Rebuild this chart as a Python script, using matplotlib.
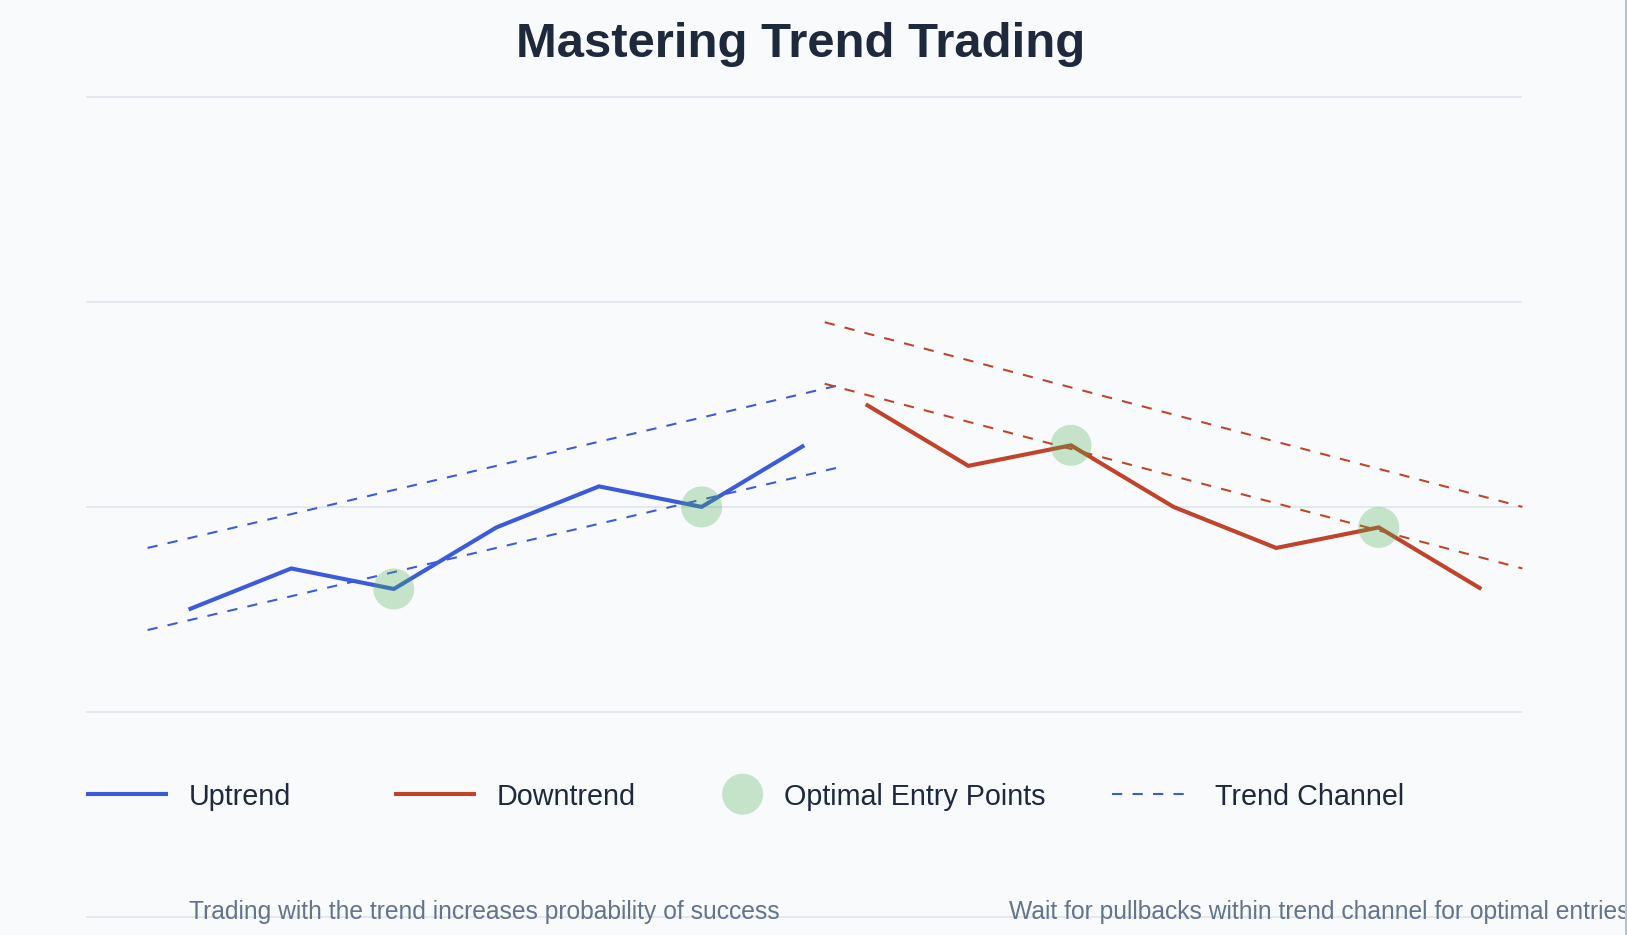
import matplotlib
matplotlib.use("Agg")
import matplotlib.pyplot as plt
from matplotlib.patches import Rectangle

plt.rcParams['font.family'] = ['Liberation Sans', 'DejaVu Sans']

# ---------------- data ----------------
up_time = [100, 150, 200, 250, 300, 350, 400]
up_price = [50, 70, 60, 90, 110, 100, 130]
down_time = [430, 480, 530, 580, 630, 680, 730]
down_price = [150, 120, 130, 100, 80, 90, 60]

entry_time = [200, 350, 530, 680]
entry_price = [60, 100, 130, 90]

up_channel_time = [80, 420]
up_channel_upper = [80, 160]
up_channel_lower = [40, 120]
down_channel_time = [410, 750]
down_channel_upper = [190, 100]
down_channel_lower = [160, 70]

grid_levels = [300, 200, 100, 0, -100]

title = "Mastering Trend Trading"
legend_labels = ["Uptrend", "Downtrend", "Optimal Entry Points", "Trend Channel"]
notes = ["Trading with the trend increases probability of success",
         "Wait for pullbacks within trend channel for optimal entries"]

# ---------------- style ----------------
BG = '#f8fafc'
BLUE = '#3b5bdb'
RED = '#c0432a'
GREEN = '#4caf50'
GRID = '#e2e8f0'
DARK = '#1e293b'
MUTED = '#64748b'

W, H = 1627, 935
fig = plt.figure(figsize=(W / 100, H / 100), dpi=100, facecolor=BG)
ax = fig.add_axes([0, 0, 1, 1])
ax.set_facecolor(BG)
for s in ax.spines.values():
    s.set_visible(False)
ax.set_xticks([])
ax.set_yticks([])

# pixel mapping (1 unit ~ 2.052 px)
k = 2.052
x0 = 50 - 86 / k
x1 = 50 + (W - 86) / k
top = 350 - (50 - 96.5 / k)
bottom = 350 - (50 + (H - 96.5) / k)
ax.set_xlim(x0, x1)
ax.set_ylim(bottom, top)

lw_main = 4.1 * 0.72
lw_dash = 2.05 * 0.72

# grid
ax.hlines(grid_levels, 50, 750, color=GRID, lw=1.4, zorder=1)

# channels
for yv in (up_channel_upper, up_channel_lower):
    ax.plot(up_channel_time, yv, color=BLUE, lw=lw_dash, dashes=(5, 5),
            dash_capstyle='butt', zorder=2)
for yv in (down_channel_upper, down_channel_lower):
    ax.plot(down_channel_time, yv, color=RED, lw=lw_dash, dashes=(5, 5),
            dash_capstyle='butt', zorder=2)

# trend lines
ax.plot(up_time, up_price, color=BLUE, lw=lw_main, solid_capstyle='butt',
        solid_joinstyle='miter', zorder=3)
ax.plot(down_time, down_price, color=RED, lw=lw_main, solid_capstyle='butt',
        solid_joinstyle='miter', zorder=3)

# entry points
msize = (2 * 20.5 * 0.72) ** 2
ax.scatter(entry_time, entry_price, s=msize, color=GREEN, alpha=0.3,
           edgecolors='none', zorder=4)

# title
fig.text(801 / W, 1 - 57 / H, title, ha='center', va='baseline',
         fontsize=35.3, fontweight='bold', color=DARK)

# legend (custom)
leg_y = 350 - 390
leg_text_y = 350 - 395.5
fs_leg = 28.7 * 0.72
ax.plot([50, 90], [leg_y, leg_y], color=BLUE, lw=lw_main, solid_capstyle='butt')
ax.text(100, leg_text_y, legend_labels[0], fontsize=fs_leg, color=DARK, va='baseline')
ax.plot([200, 240], [leg_y, leg_y], color=RED, lw=lw_main, solid_capstyle='butt')
ax.text(250, leg_text_y, legend_labels[1], fontsize=fs_leg, color=DARK, va='baseline')
ax.scatter([370], [leg_y], s=msize, color=GREEN, alpha=0.3, edgecolors='none')
ax.text(390, leg_text_y, legend_labels[2], fontsize=fs_leg, color=DARK, va='baseline')
ax.plot([550, 585], [leg_y, leg_y], color=BLUE, lw=lw_dash, dashes=(5, 5),
        dash_capstyle='butt')
ax.text(600, leg_text_y, legend_labels[3], fontsize=fs_leg, color=DARK, va='baseline')

# notes
fs_note = 24.6 * 0.72
ax.text(100, 350 - 451, notes[0], fontsize=fs_note, color=MUTED, va='baseline')
ax.text(500, 350 - 451, notes[1], fontsize=fs_note, color=MUTED, va='baseline')

# right border
fig.add_artist(Rectangle((1624.5 / W, 0), 2.5 / W, 1, transform=fig.transFigure,
                         facecolor='#b7bfd2', edgecolor='none', zorder=10))

fig.savefig('out.png', dpi=100, facecolor=BG)
